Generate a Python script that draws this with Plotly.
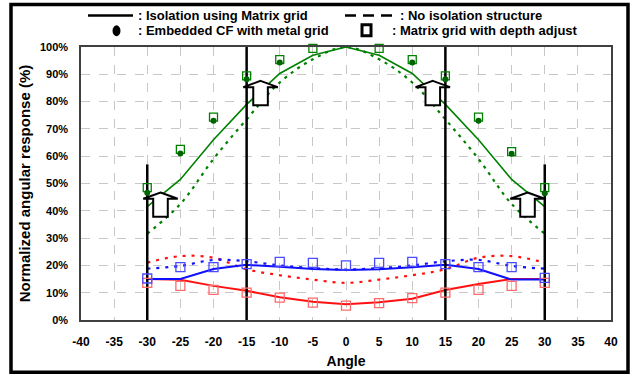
import plotly.graph_objects as go

# ---- data -------------------------------------------------------------
angles = [-30, -25, -20, -15, -10, -5, 0, 5, 10, 15, 20, 25, 30]

green_solid = [41.5, 51.5, 66.0, 79.0, 90.3, 97.0, 100.0, 97.0, 90.3, 79.0, 66.0, 51.5, 41.5]
green_dashed = [31.6, 42.5, 59.0, 73.5, 87.0, 95.5, 100.0, 95.5, 87.0, 73.5, 59.0, 42.5, 31.6]
green_square = [48.5, 62.5, 74.3, 89.4, 95.4, 99.5, 100.3, 99.5, 95.4, 89.4, 74.3, 61.7, 48.5]
green_circle = [46.6, 61.0, 73.0, 88.2, 94.3, None, None, None, 94.3, 88.2, 73.0, 60.9, 46.4]

blue_solid = [15.0, 15.0, 18.7, 20.2, 19.5, 18.7, 18.3, 18.6, 19.3, 20.2, 18.7, 14.8, 14.8]
blue_dashed = [18.8, 19.8, 22.0, 21.5, 20.0, 19.0, 18.5, 19.0, 20.0, 21.5, 22.0, 19.8, 18.8]
blue_square = [15.2, 19.4, 19.4, 20.5, 21.3, 20.9, 20.0, 20.9, 21.3, 20.5, 19.4, 19.4, 15.4]

red_solid = [15.0, 14.7, 12.5, 10.7, 8.3, 6.7, 5.8, 6.5, 7.8, 11.0, 13.2, 15.0, 15.0]
red_dashed = [21.0, 23.4, 22.8, 18.6, 16.4, 14.8, 13.6, 14.8, 16.4, 18.6, 22.8, 23.4, 21.0]
red_square = [13.6, 12.5, 11.0, 10.0, 8.2, 6.4, 5.3, 6.2, 8.0, 10.0, 11.0, 12.5, 13.6]

# vertical marker lines: angle and top value
vline_x = [-30, -15, 15, 30]
vline_top = [57, 100, 100, 57]

# hollow up-arrows: centre angle and tip value
arrow_x = [-28.0, -12.9, 13.1, 27.4]
arrow_tip = [46.7, 87.6, 87.6, 46.7]

x_ticks = list(range(-40, 45, 5))
x_tick_text = [str(v) for v in x_ticks]
y_ticks = list(range(0, 110, 10))
y_tick_text = [f"{v}%" for v in y_ticks]

legend_labels = [
    ": Isolation using Matrix grid",
    ": No isolation structure",
    ": Embedded CF with metal grid",
    ": Matrix grid with depth adjust",
]

# ---- layout geometry (pixels) -------------------------------------------
W, H = 633, 379
L, R, T, B = 81, 611, 47, 324


def px(p):
    return (p - L) / (R - L)


def py(p):
    return (B - p) / (B - T)


GREEN = "#008000"
BLUE = "#1010ff"
RED = "#ff1010"
RED_LIGHT = "#ff6a6a"
BLUE_LIGHT = "#4a4aff"
FONT = "Liberation Sans, Arial, sans-serif"

fig = go.Figure()


def line(y, color, dash="solid", width=2.0, shape="linear"):
    fig.add_trace(go.Scatter(
        x=angles, y=y, mode="lines",
        line=dict(color=color, width=width, dash=dash, shape=shape),
        showlegend=False, hoverinfo="skip", cliponaxis=False))


def markers(y, color, symbol, size, fill="rgba(0,0,0,0)", lw=1.3):
    fig.add_trace(go.Scatter(
        x=angles, y=y, mode="markers",
        marker=dict(symbol=symbol, size=size, color=fill,
                    line=dict(color=color, width=lw)),
        showlegend=False, hoverinfo="skip", cliponaxis=False))


# dashed curves (no isolation structure)
line(green_dashed, GREEN, dash="3px,5px", width=2.2, shape="spline")
line(red_dashed, RED, dash="3px,6px", width=2.2, shape="spline")
line(blue_dashed, BLUE, dash="3px,6px", width=2.2, shape="spline")

# solid curves (isolation using matrix grid)
line(green_solid, GREEN, width=1.6)
line(red_solid, RED, width=2.0)
line(blue_solid, BLUE, width=2.0)

# vertical reference lines
for xv, top in zip(vline_x, vline_top):
    fig.add_trace(go.Scatter(
        x=[xv, xv], y=[0, top], mode="lines",
        line=dict(color="black", width=2.5),
        showlegend=False, hoverinfo="skip", cliponaxis=False))

# measured points
markers(green_square, GREEN, "square", 8, lw=1.3)
markers(green_circle, "#006400", "circle", 6, fill="#006400", lw=0)
markers(red_square, RED_LIGHT, "square", 9, lw=1.3)
markers(blue_square, BLUE_LIGHT, "square", 9, lw=1.3)

shapes = []

# hollow block arrows
HEAD_HW, HEAD_H, SHAFT_HW, SHAFT_L = 2.6, 2.3, 1.1, 6.6
for xa, tip in zip(arrow_x, arrow_tip):
    base = tip - HEAD_H
    bottom = base - SHAFT_L
    path = (f"M {xa},{tip} L {xa + HEAD_HW},{base} L {xa + SHAFT_HW},{base} "
            f"L {xa + SHAFT_HW},{bottom} L {xa - SHAFT_HW},{bottom} "
            f"L {xa - SHAFT_HW},{base} L {xa - HEAD_HW},{base} Z")
    shapes.append(dict(type="path", path=path, xref="x", yref="y",
                       line=dict(color="black", width=2), fillcolor="white",
                       layer="above"))

# outer frame
shapes.append(dict(type="rect", xref="paper", yref="paper",
                   x0=px(11), x1=px(628), y0=py(4), y1=py(377),
                   line=dict(color="black", width=3.5), layer="above"))

# legend samples
row1, row2 = 15, 30
shapes.append(dict(type="line", xref="paper", yref="paper",
                   x0=px(88), x1=px(133), y0=py(row1), y1=py(row1),
                   line=dict(color="black", width=2.5)))
shapes.append(dict(type="line", xref="paper", yref="paper",
                   x0=px(345), x1=px(393), y0=py(row1), y1=py(row1),
                   line=dict(color="black", width=2.5, dash="11px,7px")))
shapes.append(dict(type="circle", xref="paper", yref="paper",
                   x0=px(112.5), x1=px(120.5), y0=py(25), y1=py(36),
                   line=dict(color="black", width=0), fillcolor="black"))
shapes.append(dict(type="rect", xref="paper", yref="paper",
                   x0=px(362), x1=px(371), y0=py(24.5), y1=py(35.5),
                   line=dict(color="black", width=3), fillcolor="white"))

annotations = []
for text, x0, y0 in zip(legend_labels, [136, 398, 136, 390], [row1, row1, row2, row2]):
    annotations.append(dict(text=text, xref="paper", yref="paper",
                            x=px(x0), y=py(y0), xanchor="left", yanchor="middle",
                            showarrow=False,
                            font=dict(family=FONT, size=13, color="black", weight="bold")))

fig.update_layout(
    width=W, height=H,
    margin=dict(l=L, r=W - R, t=T, b=H - B),
    paper_bgcolor="white", plot_bgcolor="white",
    shapes=shapes, annotations=annotations,
    showlegend=False,
    font=dict(family=FONT, color="black"),
)

fig.update_xaxes(
    range=[-40, 40], tickvals=x_ticks, ticktext=x_tick_text, ticks="",
    ticklabelstandoff=10,
    showgrid=True, gridcolor="#c8c8c8", griddash="dash", gridwidth=1,
    showline=True, linecolor="#404040", linewidth=1.5, mirror=True,
    zeroline=False,
    tickfont=dict(family=FONT, size=12, color="black", weight="bold"),
    title=dict(text="Angle", standoff=8,
               font=dict(family=FONT, size=14, color="black", weight="bold")),
)
fig.update_yaxes(
    range=[0, 100], tickvals=y_ticks, ticktext=y_tick_text, ticks="",
    ticklabelstandoff=9,
    showgrid=True, gridcolor="#c8c8c8", griddash="dash", gridwidth=1,
    showline=True, linecolor="#404040", linewidth=1.5, mirror=True,
    zeroline=False,
    tickfont=dict(family=FONT, size=11, color="black", weight="bold"),
    title=dict(text="Normalized angular response (%)", standoff=6,
               font=dict(family=FONT, size=15, color="black", weight="bold")),
)

fig.write_html("out.html")
